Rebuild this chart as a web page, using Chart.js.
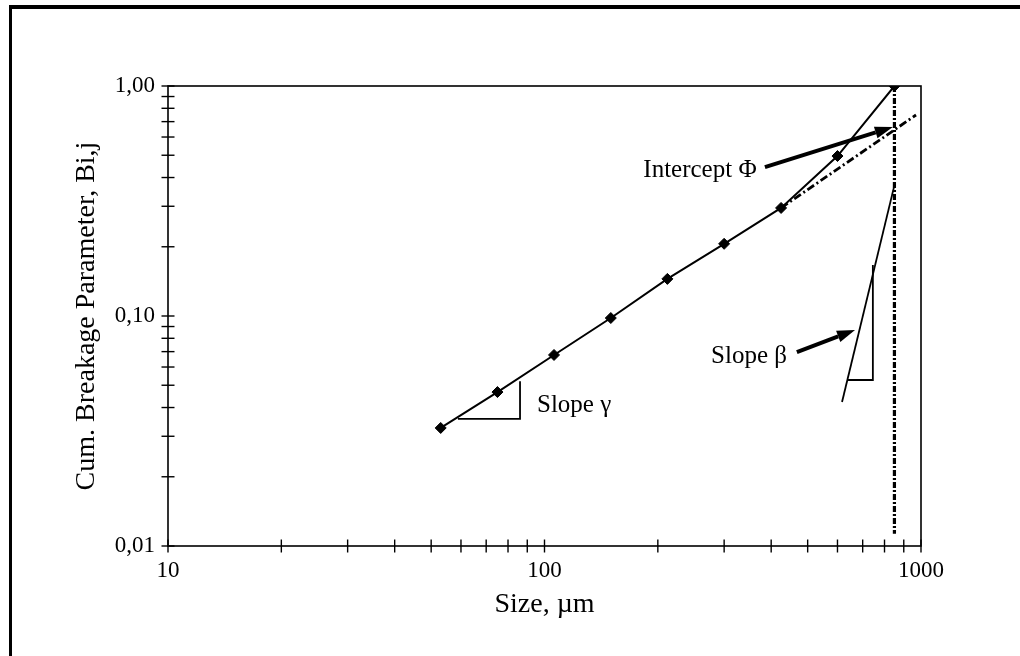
<!DOCTYPE html>
<html>
<head>
<meta charset="utf-8">
<script src="https://cdn.jsdelivr.net/npm/chart.js@4.4.1/dist/chart.umd.min.js"></script>
<style>
  html, body { margin: 0; padding: 0; background: #fff; }
  #wrap { width: 1020px; height: 656px; position: relative; }
</style>
</head>
<body>
<div id="wrap"><canvas id="chart" width="1020" height="656"></canvas></div>
<script>
// Measured cumulative breakage (size in um)
const sizes = [53, 75, 106, 150, 212, 300, 425, 600, 850];
const cumBreakage = [0.0326, 0.0467, 0.0677, 0.098, 0.145, 0.206, 0.295, 0.496, 1.0];

// Extrapolated gamma line (dash-dot) to read the intercept
const phiLineX = [425, 970];
const phiLineY = [0.295, 0.748];

// Vertical marker at the top size
const topSizeX = [850, 850];
const topSizeY = [1.0, 0.0113];

// Steep beta line
const betaLineX = [617, 853];
const betaLineY = [0.0423, 0.379];

// Slope triangles
const gammaTriX = [58.9, 86.1, 86.1];
const gammaTriY = [0.0357, 0.0357, 0.0521];
const betaTriX = [640, 745, 745];
const betaTriY = [0.0527, 0.0527, 0.1667];

// Axis ticks
const xTickValues = [10, 100, 1000];
const xTickLabels = ['10', '100', '1000'];
const yTickValues = [0.01, 0.1, 1];
const yTickLabels = ['0,01', '0,10', '1,00'];
const minorSteps = [2, 3, 4, 5, 6, 7, 8, 9];

// Labels and arrows, in data units
const notes = [
    { text: 'Intercept \u03A6', x: 183, y: 0.431 },
    { text: 'Slope \u03B2', x: 277, y: 0.067 },
    { text: 'Slope \u03B3', x: 95.5, y: 0.041 }
];
const arrows = [
    { from: [385, 0.444], to: [842, 0.663] },
    { from: [468, 0.0697], to: [668, 0.0869] }
];

const SERIF = "'Liberation Serif', 'Times New Roman', serif";

function toPoints(xs, ys) {
    return xs.map((x, i) => ({ x: x, y: ys[i] }));
}

function plainLine(xs, ys, width, dash) {
    return {
        data: toPoints(xs, ys),
        showLine: true,
        borderColor: '#000',
        borderWidth: width,
        borderDash: dash || [],
        pointRadius: 0,
        fill: false
    };
}

const decorations = {
    id: 'decorations',
    beforeDraw(chart) {
        const ctx = chart.ctx;
        ctx.save();
        ctx.fillStyle = '#fff';
        ctx.fillRect(0, 0, chart.width, chart.height);
        // outer picture frame (top and left only)
        ctx.fillStyle = '#000';
        ctx.fillRect(9, 5, chart.width - 9, 4);
        ctx.fillRect(9, 5, 3, chart.height - 5);
        ctx.restore();
    },
    afterDraw(chart) {
        const ctx = chart.ctx;
        const xs = chart.scales.x;
        const ys = chart.scales.y;
        const area = chart.chartArea;
        ctx.save();
        ctx.strokeStyle = '#000';
        ctx.fillStyle = '#000';

        // plot frame
        ctx.lineWidth = 1.6;
        ctx.strokeRect(area.left, area.top, area.right - area.left, area.bottom - area.top);

        // tick marks crossing the axes
        ctx.lineWidth = 1.4;
        const half = 6.5;
        const decadeTicks = (vals) => {
            const out = [];
            vals.forEach((v, i) => {
                out.push(v);
                if (i < vals.length - 1) minorSteps.forEach(m => out.push(v * m));
            });
            return out;
        };
        decadeTicks(xTickValues).forEach(v => {
            const px = xs.getPixelForValue(v);
            ctx.beginPath();
            ctx.moveTo(px, area.bottom - half);
            ctx.lineTo(px, area.bottom + half);
            ctx.stroke();
        });
        decadeTicks(yTickValues).forEach(v => {
            const py = ys.getPixelForValue(v);
            ctx.beginPath();
            ctx.moveTo(area.left - half, py);
            ctx.lineTo(area.left + half, py);
            ctx.stroke();
        });

        // annotation text
        ctx.font = '25px ' + SERIF;
        ctx.textAlign = 'left';
        ctx.textBaseline = 'middle';
        notes.forEach(n => {
            ctx.fillText(n.text, xs.getPixelForValue(n.x), ys.getPixelForValue(n.y));
        });

        // arrows
        arrows.forEach(a => {
            const x0 = xs.getPixelForValue(a.from[0]);
            const y0 = ys.getPixelForValue(a.from[1]);
            const x1 = xs.getPixelForValue(a.to[0]);
            const y1 = ys.getPixelForValue(a.to[1]);
            const ang = Math.atan2(y1 - y0, x1 - x0);
            const headLen = 18;
            const headHalf = 6;
            const bx = x1 - headLen * Math.cos(ang);
            const by = y1 - headLen * Math.sin(ang);
            ctx.lineWidth = 4;
            ctx.beginPath();
            ctx.moveTo(x0, y0);
            ctx.lineTo(bx, by);
            ctx.stroke();
            ctx.beginPath();
            ctx.moveTo(x1, y1);
            ctx.lineTo(bx + headHalf * Math.sin(ang), by - headHalf * Math.cos(ang));
            ctx.lineTo(bx - headHalf * Math.sin(ang), by + headHalf * Math.cos(ang));
            ctx.closePath();
            ctx.fill();
        });
        ctx.restore();
    }
};

const tickFont = { family: SERIF, size: 23 };
const titleFont = { family: SERIF, size: 28 };

new Chart(document.getElementById('chart'), {
    type: 'scatter',
    data: {
        datasets: [
            plainLine(topSizeX, topSizeY, 3.2, [6, 2, 2, 2]),
            plainLine(phiLineX, phiLineY, 2.8, [8, 3, 2, 3]),
            plainLine(betaLineX, betaLineY, 1.8),
            plainLine(gammaTriX, gammaTriY, 1.8),
            plainLine(betaTriX, betaTriY, 1.8),
            {
                data: toPoints(sizes, cumBreakage),
                showLine: true,
                borderColor: '#000',
                borderWidth: 2,
                backgroundColor: '#000',
                pointStyle: 'rectRot',
                pointRadius: 5.5,
                pointBorderWidth: 1,
                pointBorderColor: '#000'
            }
        ]
    },
    options: {
        responsive: false,
        animation: false,
        layout: { padding: { top: 86, right: 99, left: 0, bottom: 0 } },
        plugins: {
            legend: { display: false },
            tooltip: { enabled: false }
        },
        scales: {
            x: {
                type: 'logarithmic',
                position: 'bottom',
                min: 10,
                max: 1000,
                afterFit: s => { s.height = 110; },
                afterBuildTicks: s => { s.ticks = xTickValues.map(v => ({ value: v })); },
                ticks: {
                    callback: (v, i) => xTickLabels[i],
                    font: tickFont,
                    color: '#000',
                    padding: 11,
                    maxRotation: 0,
                    autoSkip: false
                },
                grid: { display: false, drawTicks: false },
                border: { display: false },
                title: {
                    display: true,
                    text: 'Size, \u00B5m',
                    font: titleFont,
                    color: '#000',
                    padding: { top: 0, bottom: 35 }
                }
            },
            y: {
                type: 'logarithmic',
                position: 'left',
                min: 0.01,
                max: 1,
                afterFit: s => { s.width = 168; },
                afterBuildTicks: s => { s.ticks = yTickValues.map(v => ({ value: v })); },
                ticks: {
                    callback: (v, i) => yTickLabels[i],
                    font: tickFont,
                    color: '#000',
                    padding: 13,
                    autoSkip: false
                },
                grid: { display: false, drawTicks: false },
                border: { display: false },
                title: {
                    display: true,
                    text: 'Cum. Breakage Parameter, Bi,j',
                    font: titleFont,
                    color: '#000',
                    padding: { top: 70, bottom: 0 }
                }
            }
        }
    },
    plugins: [decorations]
});
</script>
</body>
</html>
